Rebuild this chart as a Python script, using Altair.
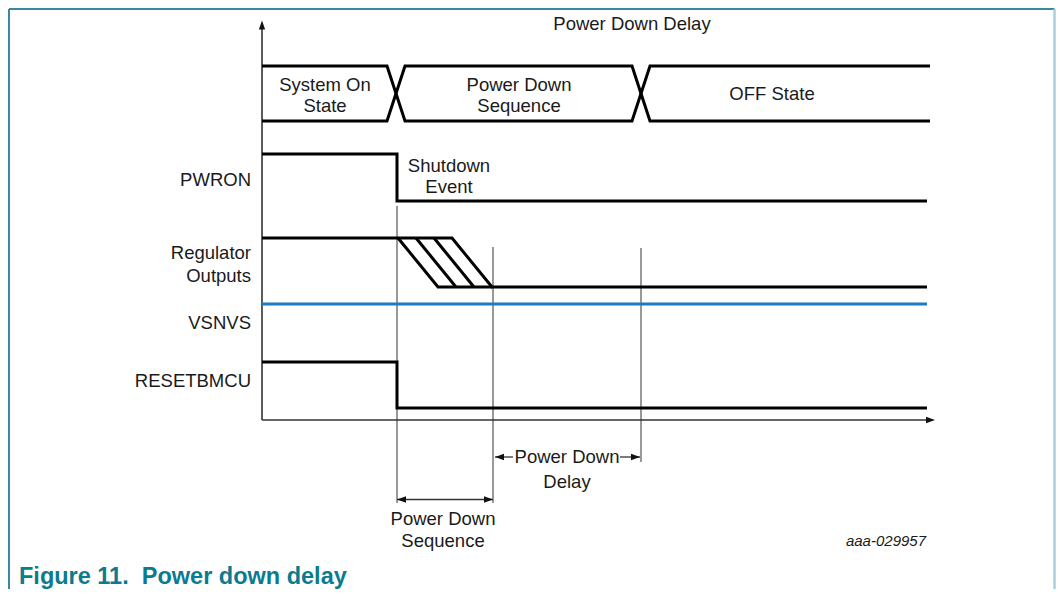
import altair as alt
import pandas as pd

# ---- diagram data (time axis position t, vertical level v) ----
# bus (state) lines: two zig-zag traces forming the "X" transitions
BUS_A_T = [262, 387, 405, 632, 650, 930]
BUS_A_V = [66, 66, 121, 121, 66, 66]
BUS_B_T = [262, 387, 405, 632, 650, 930]
BUS_B_V = [121, 121, 66, 66, 121, 121]

PWRON_T = [262, 397, 397, 927]
PWRON_V = [154, 154, 201, 201]

REG_MAIN_T = [262, 452, 492, 927]
REG_MAIN_V = [238, 238, 287, 287]
REG_FIRST_T = [398, 438, 492]
REG_FIRST_V = [238, 287, 287]
REG_MID1_T = [416, 456]
REG_MID2_T = [434, 474]
REG_MID_V = [238, 287]

RESET_T = [262, 397, 397, 927]
RESET_V = [362, 362, 408, 408]

VSNVS_T = [262, 927]
VSNVS_V = [304, 304]

# thin marker lines (t, v_top, v_bottom)
MARK_T = [397, 493, 641]
MARK_V1 = [206, 247, 248]
MARK_V2 = [503, 503, 462]

# axes
YAXIS_T = [262, 262]
YAXIS_V = [27, 420]
XAXIS_T = [262, 930]
XAXIS_V = [420, 420]

# dimension lines (t1, t2, v)
DIM_T1 = [397, 495, 620]
DIM_T2 = [493, 513, 640]
DIM_V = [499.5, 457, 457]

# arrowheads (t, v, direction)
ARW_T = [262, 930.5, 401.5, 488.5, 499.5, 635.5]
ARW_V = [25, 420, 499.5, 499.5, 457, 457]
ARW_D = ["up", "right", "left", "right", "left", "right"]

# frame
FRAME_LEFT_T = 9
FRAME_RIGHT_T = 1054.5
FRAME_TOP_V = 9
FRAME_BOTTOM_V = 589

# labels
CENTER_TEXT = ["Power Down Delay", "System On", "State", "Power Down", "Sequence",
               "OFF State", "Shutdown", "Event", "Power Down", "Delay",
               "Power Down", "Sequence"]
CENTER_T = [632, 325, 325, 519, 519, 772, 449, 449, 567, 567, 443, 443]
CENTER_V = [30, 91, 112, 91, 112, 100, 172, 193, 463, 488, 525, 547]

SIG_TEXT = ["PWRON", "Regulator", "Outputs", "VSNVS", "RESETBMCU"]
SIG_V = [186, 259, 282, 329, 387]
SIG_T = [251, 251, 251, 251, 251]

ID_TEXT = ["aaa-029957"]
CAPTION = ["Figure 11.\u00a0\u00a0Power down delay"]

W, H = 1048, 581
xs = alt.Scale(domain=[8, 8 + W], nice=False, zero=False)
ys = alt.Scale(domain=[8, 8 + H], nice=False, zero=False, reverse=True)
X = lambda f: alt.X(f, type="quantitative", scale=xs, axis=None)
Y = lambda f: alt.Y(f, type="quantitative", scale=ys, axis=None)


def path_df(name, ts, vs):
    return pd.DataFrame({"id": name, "t": ts, "v": vs, "i": range(len(ts))})


black_paths = pd.concat([
    path_df("busA", BUS_A_T, BUS_A_V),
    path_df("busB", BUS_B_T, BUS_B_V),
    path_df("pwron", PWRON_T, PWRON_V),
    path_df("regmain", REG_MAIN_T, REG_MAIN_V),
    path_df("regfirst", REG_FIRST_T, REG_FIRST_V),
    path_df("regmid1", REG_MID1_T, REG_MID_V),
    path_df("regmid2", REG_MID2_T, REG_MID_V),
    path_df("reset", RESET_T, RESET_V),
])
blue_path = path_df("vsnvs", VSNVS_T, VSNVS_V)

waves = alt.Chart(black_paths).mark_line(
    color="#000000", strokeWidth=3, strokeJoin="miter", strokeCap="butt"
).encode(x=X("t"), y=Y("v"), detail="id:N", order="i:Q")

blue = alt.Chart(blue_path).mark_line(color="#1b7cc1", strokeWidth=3).encode(
    x=X("t"), y=Y("v"), order="i:Q")

markers = alt.Chart(pd.DataFrame({"t": MARK_T, "v1": MARK_V1, "v2": MARK_V2})).mark_rule(
    color="#555555", strokeWidth=1.2).encode(x=X("t"), y=Y("v1"), y2="v2")

axes_df = pd.DataFrame({"t1": [YAXIS_T[0], XAXIS_T[0]], "t2": [YAXIS_T[1], XAXIS_T[1]],
                        "v1": [YAXIS_V[0], XAXIS_V[0]], "v2": [YAXIS_V[1], XAXIS_V[1]]})
axes = alt.Chart(axes_df).mark_rule(color="#333333", strokeWidth=1.6).encode(
    x=X("t1"), x2="t2", y=Y("v1"), y2="v2")

dims = alt.Chart(pd.DataFrame({"t1": DIM_T1, "t2": DIM_T2, "v": DIM_V})).mark_rule(
    color="#333333", strokeWidth=1.3).encode(x=X("t1"), x2="t2", y=Y("v"))

shapes = {
    "up": "M-0.7,1L0,-1L0.7,1Z",
    "right": "M-1,-0.7L1,0L-1,0.7Z",
    "left": "M1,-0.7L-1,0L1,0.7Z",
}
arw_df = pd.DataFrame({"t": ARW_T, "v": ARW_V, "d": ARW_D})
arrows = alt.Chart(arw_df).mark_point(filled=True, opacity=1, color="#111111", size=81).encode(
    x=X("t"), y=Y("v"),
    shape=alt.Shape("d:N", scale=alt.Scale(domain=list(shapes.keys()), range=list(shapes.values())),
                    legend=None))

frame_df = pd.DataFrame({
    "t1": [FRAME_LEFT_T, FRAME_LEFT_T],
    "t2": [FRAME_RIGHT_T, FRAME_LEFT_T],
    "v1": [FRAME_TOP_V, FRAME_TOP_V],
    "v2": [FRAME_TOP_V, FRAME_BOTTOM_V],
})
frame_left_top = alt.Chart(frame_df).mark_rule(color="#3a8a9e", strokeWidth=2).encode(
    x=X("t1"), x2="t2", y=Y("v1"), y2="v2")
frame_right = alt.Chart(pd.DataFrame({"t": [FRAME_RIGHT_T], "v1": [FRAME_TOP_V],
                                      "v2": [FRAME_BOTTOM_V]})).mark_rule(
    color="#a8cfd9", strokeWidth=2.5).encode(x=X("t"), y=Y("v1"), y2="v2")

FONT = "Liberation Sans"
center_txt = alt.Chart(pd.DataFrame({"s": CENTER_TEXT, "t": CENTER_T, "v": CENTER_V})).mark_text(
    font=FONT, fontSize=18.5, align="center", baseline="alphabetic", color="#1a1a1a").encode(
    x=X("t"), y=Y("v"), text="s:N")

sig_txt = alt.Chart(pd.DataFrame({"s": SIG_TEXT, "t": SIG_T, "v": SIG_V})).mark_text(
    font=FONT, fontSize=18.5, align="right", baseline="alphabetic", color="#1a1a1a").encode(
    x=X("t"), y=Y("v"), text="s:N")

id_txt = alt.Chart(pd.DataFrame({"s": ID_TEXT, "t": [926], "v": [546]})).mark_text(
    font=FONT, fontSize=15, fontStyle="italic", align="right", baseline="alphabetic",
    color="#1a1a1a").encode(x=X("t"), y=Y("v"), text="s:N")

cap_txt = alt.Chart(pd.DataFrame({"s": CAPTION, "t": [19], "v": [584]})).mark_text(
    font=FONT, fontSize=23.5, fontWeight="bold", align="left", baseline="alphabetic",
    color="#0b7b8f").encode(x=X("t"), y=Y("v"), text="s:N")

chart = alt.layer(
    frame_left_top, frame_right, markers, axes, dims, arrows, blue, waves,
    center_txt, sig_txt, id_txt, cap_txt
).properties(
    width=W, height=H, autosize=alt.AutoSizeParams(type="none"), padding=0,
    background="white"
).configure_view(stroke=None)

chart.save("out.html", embed_options={"renderer": "svg", "actions": False})
